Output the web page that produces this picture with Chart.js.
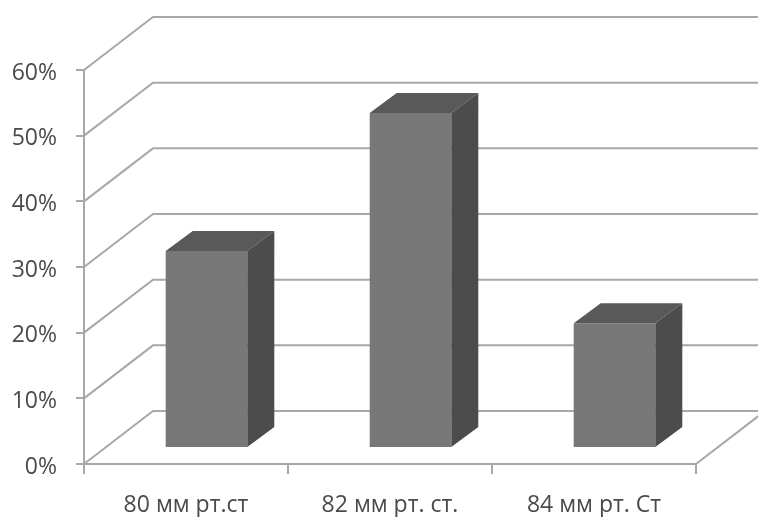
<!DOCTYPE html>
<html>
<head>
<meta charset="utf-8">
<script src="https://cdn.jsdelivr.net/npm/chart.js@4"></script>
<style>
    html, body { margin: 0; padding: 0; background: #fff; }
    #wrap { width: 758px; height: 517px; }
</style>
</head>
<body>
<div id="wrap"><canvas id="myChart"></canvas></div>
<script>
const categories = ["80 мм рт.ст", "82 мм рт. ст.", "84 мм рт. Ст"];
const values = [30, 51, 19];
const axisMax = 60;
const axisStep = 10;

const lineColor = "#a8a8a8";
const textColor = "#4a4a4a";
const frontColor = "#787878";
const topColor = "#595959";
const sideColor = "#4c4c4c";

// depth of the floor and walls
const wallDx = 69;
const wallDy = -53;
// bars stand in the middle of the floor
const barDx = 20.5;
const barDy = -16;
// depth of each bar
const boxDx = 27;
const boxDy = -20;

const box3d = {
    id: "box3d",
    beforeDatasetsDraw(chart) {
        const ctx = chart.ctx;
        const xs = chart.scales.x;
        const ys = chart.scales.y;
        ctx.save();
        ctx.strokeStyle = lineColor;
        ctx.lineWidth = 2;
        ys.ticks.forEach(function (t) {
            const py = ys.getPixelForValue(t.value);
            ctx.beginPath();
            ctx.moveTo(xs.left, py);
            ctx.lineTo(xs.left + wallDx, py + wallDy);
            ctx.lineTo(chart.width + 10, py + wallDy);
            ctx.stroke();
        });
        // right edge of the floor
        ctx.beginPath();
        ctx.moveTo(xs.right, ys.bottom);
        ctx.lineTo(xs.right + wallDx, ys.bottom + wallDy);
        ctx.stroke();
        ctx.restore();
    },
    beforeDatasetDraw(chart) {
        chart.ctx.save();
        chart.ctx.translate(barDx, barDy);
    },
    afterDatasetDraw(chart, args) {
        const ctx = chart.ctx;
        args.meta.data.forEach(function (bar) {
            const left = bar.x - bar.width / 2;
            const right = bar.x + bar.width / 2;

            ctx.fillStyle = topColor;
            ctx.beginPath();
            ctx.moveTo(left, bar.y);
            ctx.lineTo(left + boxDx, bar.y + boxDy);
            ctx.lineTo(right + boxDx, bar.y + boxDy);
            ctx.lineTo(right, bar.y);
            ctx.closePath();
            ctx.fill();

            ctx.fillStyle = sideColor;
            ctx.beginPath();
            ctx.moveTo(right, bar.y);
            ctx.lineTo(right + boxDx, bar.y + boxDy);
            ctx.lineTo(right + boxDx, bar.base + boxDy);
            ctx.lineTo(right, bar.base);
            ctx.closePath();
            ctx.fill();
        });
        ctx.restore();
    }
};

var ctx = document.getElementById("myChart").getContext("2d");
var myChart = new Chart(ctx, {
    type: "bar",
    data: {
        labels: categories,
        datasets: [{
            data: values,
            backgroundColor: frontColor,
            barPercentage: 0.4,
            categoryPercentage: 1
        }]
    },
    options: {
        responsive: true,
        maintainAspectRatio: false,
        animation: false,
        layout: { padding: { top: 70, right: 62 } },
        plugins: {
            legend: { display: false },
            tooltip: { enabled: false }
        },
        scales: {
            x: {
                afterFit: function (scale) { scale.height = 53; },
                grid: { drawOnChartArea: false, color: lineColor, lineWidth: 2, tickLength: 10 },
                border: { color: lineColor, width: 2 },
                ticks: {
                    color: textColor,
                    padding: 18,
                    maxRotation: 0,
                    font: { family: "'Open Sans'", size: 23 }
                }
            },
            y: {
                min: 0,
                max: axisMax,
                afterFit: function (scale) { scale.width = 84; },
                grid: { drawOnChartArea: false, color: lineColor, lineWidth: 2, tickLength: 8 },
                border: { color: lineColor, width: 2 },
                ticks: {
                    stepSize: axisStep,
                    color: textColor,
                    padding: 19,
                    labelOffset: 3,
                    font: { family: "'Open Sans'", size: 23 },
                    callback: function (v) { return v + "%"; }
                }
            }
        }
    },
    plugins: [box3d]
});
</script>
</body>
</html>
